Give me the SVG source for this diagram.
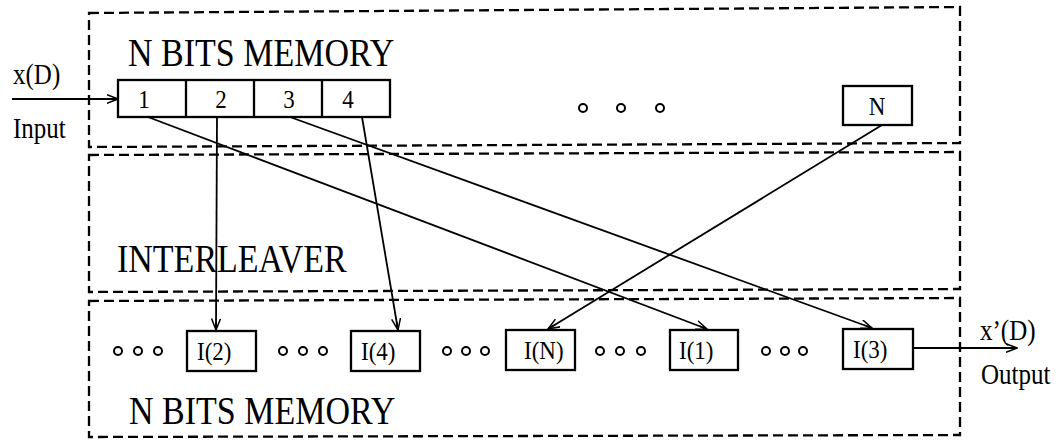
<svg xmlns="http://www.w3.org/2000/svg" width="1062" height="440" viewBox="0 0 1062 440">
<style>
  text { font-family: "Liberation Serif", "Times New Roman", serif; fill: #000; }
  .panel { fill: none; stroke: #000; stroke-width: 2.3; stroke-dasharray: 10 5; }
  .box { fill: #fff; stroke: #000; stroke-width: 2.3; }
  .div { stroke: #000; stroke-width: 2.3; }
  .conn { fill: none; stroke: #000; stroke-width: 1.8; marker-end: url(#arr); }
  .dot { fill: none; stroke: #000; stroke-width: 2; }
  .big { font-size: 34px; }
  .lbl { font-size: 25px; }
  .cell { font-size: 23px; text-anchor: middle; }
  .bl { font-size: 23px; }
</style>
<defs>
  <marker id="arr" viewBox="0 0 12 10" refX="11.5" refY="5" markerWidth="12" markerHeight="10" markerUnits="userSpaceOnUse" orient="auto">
    <path d="M0,0.5 L11.5,5 L0,9.5 M11.5,5 L3,5" fill="none" stroke="#000" stroke-width="1.5"/>
  </marker>
</defs>

<g id="panel-top">
  <path class="panel" d="M89,13 L960,7 L960,143 L89,147 Z"/>
  <text class="big" transform="translate(128,66) scale(1,1.15)">N BITS MEMORY</text>
</g>
<g id="panel-interleaver">
  <path class="panel" d="M89,155 L960,152 L960,289 L89,292 Z"/>
  <text class="big" transform="translate(117,272) scale(1,1.15)">INTERLEAVER</text>
</g>
<g id="panel-bottom">
  <path class="panel" d="M89,301 L960,298 L960,435 L89,437 Z"/>
  <text class="big" transform="translate(129,424) scale(1,1.15)">N BITS MEMORY</text>
</g>

<g id="input-label">
  <text class="lbl" transform="translate(13,84) scale(1,1.15)">x(D)</text>
  <text class="lbl" transform="translate(13,138) scale(1,1.15)">Input</text>
</g>
<g id="output-label">
  <text class="lbl" transform="translate(980,340) scale(1,1.15)">x’(D)</text>
  <text class="lbl" transform="translate(981,384) scale(1,1.15)">Output</text>
</g>

<g id="memory-top">
  <rect class="box" x="118" y="80" width="272" height="37"/>
  <line class="div" x1="186" y1="80" x2="186" y2="117"/>
  <line class="div" x1="254" y1="80" x2="254" y2="117"/>
  <line class="div" x1="322" y1="80" x2="322" y2="117"/>
  <text class="cell" transform="translate(144,108) scale(1,1.1)">1</text>
  <text class="cell" transform="translate(221,108) scale(1,1.1)">2</text>
  <text class="cell" transform="translate(289,108) scale(1,1.1)">3</text>
  <text class="cell" transform="translate(348,108) scale(1,1.1)">4</text>
</g>
<g id="dots-top">
  <circle class="dot" cx="583" cy="108" r="4"/>
  <circle class="dot" cx="621" cy="108" r="4"/>
  <circle class="dot" cx="660" cy="108" r="4"/>
</g>
<g id="cell-N">
  <rect class="box" x="843" y="86" width="69" height="39"/>
  <text class="cell" transform="translate(877,115) scale(1,1.1)">N</text>
</g>

<g id="dots-b1">
  <circle class="dot" cx="118" cy="351" r="4"/>
  <circle class="dot" cx="138" cy="351" r="4"/>
  <circle class="dot" cx="158" cy="351" r="4"/>
</g>
<g id="out-I2">
  <rect class="box" x="187" y="331" width="69" height="40"/>
  <text class="bl" transform="translate(197,360) scale(1,1.12)">I(2)</text>
</g>
<g id="dots-b2">
  <circle class="dot" cx="283" cy="351" r="4"/>
  <circle class="dot" cx="303" cy="351" r="4"/>
  <circle class="dot" cx="323" cy="351" r="4"/>
</g>
<g id="out-I4">
  <rect class="box" x="351" y="331" width="69" height="40"/>
  <text class="bl" transform="translate(361,360) scale(1,1.12)">I(4)</text>
</g>
<g id="dots-b3">
  <circle class="dot" cx="447" cy="351" r="4"/>
  <circle class="dot" cx="466" cy="351" r="4"/>
  <circle class="dot" cx="485" cy="351" r="4"/>
</g>
<g id="out-IN">
  <rect class="box" x="506" y="330" width="69" height="40"/>
  <text class="bl" transform="translate(524,359) scale(1,1.12)">I(N)</text>
</g>
<g id="dots-b4">
  <circle class="dot" cx="600" cy="351" r="4"/>
  <circle class="dot" cx="620" cy="351" r="4"/>
  <circle class="dot" cx="641" cy="351" r="4"/>
</g>
<g id="out-I1">
  <rect class="box" x="670" y="330" width="68" height="40"/>
  <text class="bl" transform="translate(679,359) scale(1,1.12)">I(1)</text>
</g>
<g id="dots-b5">
  <circle class="dot" cx="766" cy="351" r="4"/>
  <circle class="dot" cx="785" cy="351" r="4"/>
  <circle class="dot" cx="803" cy="351" r="4"/>
</g>
<g id="out-I3">
  <rect class="box" x="843" y="329" width="70" height="40"/>
  <text class="bl" transform="translate(853,358) scale(1,1.12)">I(3)</text>
</g>

<g id="connectors">
  <line class="conn" x1="12" y1="99" x2="118" y2="99"/>
  <line class="conn" x1="217" y1="117" x2="216" y2="330"/>
  <line class="conn" x1="362" y1="117" x2="398" y2="330"/>
  <line class="conn" x1="148" y1="117" x2="707" y2="329"/>
  <line class="conn" x1="290" y1="117" x2="872" y2="328"/>
  <line class="conn" x1="882" y1="125" x2="548" y2="329"/>
  <line class="conn" x1="913" y1="348" x2="1017" y2="348"/>
</g>
</svg>
